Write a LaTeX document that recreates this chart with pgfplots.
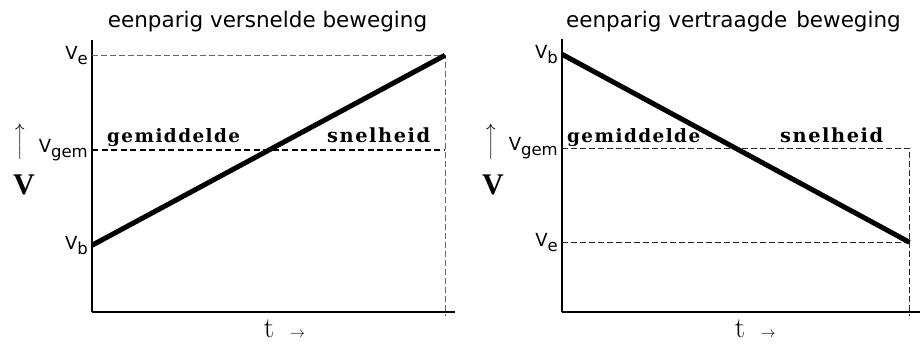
\documentclass[border=0pt]{standalone}
\usepackage{fontspec}
\usepackage{pgfplots}
\pgfplotsset{compat=1.18}
\newfontfamily\sans{DejaVu Sans}
\newfontfamily\gemfont[LetterSpace=8]{DejaVu Serif}
\newfontfamily\timesf{Liberation Serif}
\newcommand{\lab}[1]{V\raisebox{-5pt}{\fontsize{16.5}{16.5}\selectfont #1}}
\newcommand{\gem}[2]{\resizebox{#1}{!}{\gemfont\bfseries\fontsize{18.5}{18.5}\selectfont #2}}
\pgfplotsset{
  vstyle/.style={
    scale only axis,
    axis x line=bottom, axis y line=left,
    axis line style={-, line width=2.2pt, black},
    xtick=\empty, major tick length=0pt,
    xmin=0, ymin=0, clip=false,
    yticklabel style={font=\sans\fontsize{18}{18}\selectfont, inner sep=0pt, xshift=-4pt},
  }
}
\begin{document}
\begin{tikzpicture}[x=1pt,y=1pt]
% left panel
\begin{axis}[vstyle, at={(92pt,32.7pt)}, anchor=south west,
  width=363pt, height=272pt, xmax=363, ymax=272,
  ytick={67,162,257}, yticklabels={\lab{b},\lab{gem},\lab{e}}]
\addplot[black!60, line width=0.9pt, dash pattern=on 6pt off 3pt] coordinates {(0,257) (353,257) (353,-4)};
\addplot[black, line width=1.8pt, dash pattern=on 6pt off 3.5pt] coordinates {(0,162) (353,162)};
\addplot[black, line width=5pt] coordinates {(0,67) (353,257)};
\end{axis}
% right panel
\begin{axis}[vstyle, at={(562pt,32.7pt)}, anchor=south west,
  width=360pt, height=273pt, xmax=360, ymax=273,
  ytick={70,164,258}, yticklabels={\lab{e},\lab{gem},\lab{b}}]
\addplot[black!85, line width=1.1pt, dash pattern=on 6pt off 3pt] coordinates {(0,70) (347.5,70)};
\addplot[black!85, line width=1.3pt, dash pattern=on 6pt off 3pt] coordinates {(0,164) (347.5,164) (347.5,-4)};
\addplot[black, line width=5pt] coordinates {(0,258) (347.5,70)};
\end{axis}
% titles
\node[anchor=base, font=\sans\fontsize{21.5}{24}\selectfont] at (267.5,317.7) {eenparig versnelde beweging};
\node[anchor=base, font=\sans\fontsize{21.5}{24}\selectfont] at (733.5,317.7) {eenparig vertraagde\hspace{9pt}beweging};
% V and arrows
\node[anchor=base] at (24,150) {\timesf\bfseries\fontsize{30}{30}\selectfont V};
\node[anchor=base] at (493,150) {\timesf\bfseries\fontsize{30}{30}\selectfont V};
\node at (21,203) {\rotatebox{90}{\scalebox{2.4}[1.7]{$\longrightarrow$}}};
\node at (492,203) {\rotatebox{90}{\scalebox{2.4}[1.7]{$\longrightarrow$}}};
% t arrows
\node[anchor=base] at (269,7) {\fontsize{29}{29}\selectfont t};
\node at (297.5,10) {\scalebox{1.5}{$\rightarrow$}};
\node[anchor=base] at (740,7) {\fontsize{29}{29}\selectfont t};
\node at (768,10) {\scalebox{1.5}{$\rightarrow$}};
% gemiddelde snelheid
\node[anchor=base west, inner sep=0pt] at (107,202) {\gem{133pt}{gemiddelde}};
\node[anchor=base west, inner sep=0pt] at (327,202) {\gem{103pt}{snelheid}};
\node[anchor=base west, inner sep=0pt] at (567,202) {\gem{133pt}{gemiddelde}};
\node[anchor=base west, inner sep=0pt] at (780,202) {\gem{103pt}{snelheid}};
\pgfresetboundingbox
\path[use as bounding box] (0,0) rectangle (920,345);
\end{tikzpicture}
\end{document}
